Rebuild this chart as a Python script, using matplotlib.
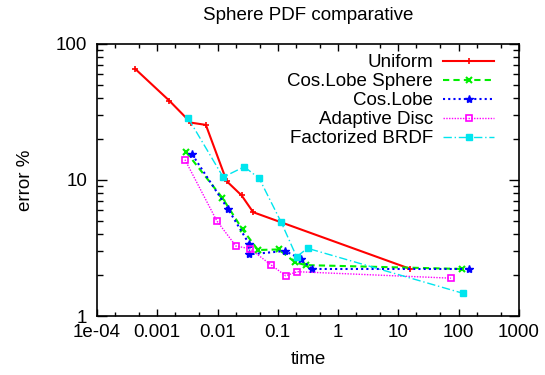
import numpy as np
import matplotlib
matplotlib.use('Agg')
import matplotlib.pyplot as plt
from matplotlib.ticker import FixedLocator, LogLocator, NullFormatter

# data (time, error %)
uniform_t = [4.3e-4, 1.58e-3, 3.6e-3, 6.4e-3, 0.0142, 0.0251, 0.039, 15.9]
uniform_e = [65.5, 38.3, 26.4, 25.4, 9.8, 7.7, 5.8, 2.22]

sphere_t = [3.0e-3, 0.012, 0.026, 0.047, 0.104, 0.192, 0.289, 116]
sphere_e = [16.1, 7.4, 4.33, 3.06, 3.09, 2.49, 2.37, 2.22]

lobe_t = [3.8e-3, 0.015, 0.0336, 0.0336, 0.131, 0.239, 0.368, 148]
lobe_e = [15.4, 6.1, 3.38, 2.84, 3.01, 2.64, 2.22, 2.22]

disc_t = [2.88e-3, 0.0097, 0.0202, 0.0344, 0.077, 0.135, 0.21, 75]
disc_e = [14.1, 5.02, 3.27, 3.13, 2.38, 1.98, 2.12, 1.90]

brdf_t = [3.27e-3, 0.0124, 0.0277, 0.049, 0.114, 0.205, 0.312, 119]
brdf_e = [28.4, 10.5, 12.5, 10.3, 4.89, 2.73, 3.15, 1.47]

x_ticks = [1e-4, 1e-3, 1e-2, 1e-1, 1, 10, 100, 1000]
x_labels = ['1e-04', '0.001', '0.01', '0.1', '1', '10', '100', '1000']
y_ticks = [1, 10, 100]
y_labels = ['1', '10', '100']

FS = 13.5
plt.rcParams['font.family'] = ['Liberation Sans', 'DejaVu Sans']
fig = plt.figure(figsize=(5.45, 3.75), dpi=100)
ax = fig.add_axes([0.178, 0.157, 0.774, 0.726])

ax.plot(uniform_t, uniform_e, color='#ff0000', lw=1.5, ls='-', marker='+', ms=5, mew=1.2, label='Uniform')
ax.plot(sphere_t, sphere_e, color='#00ee00', lw=1.5, ls=(0, (3, 2)), marker='x', ms=5, mew=1.5, label='Cos.Lobe Sphere')
ax.plot(lobe_t, lobe_e, color='#0000ff', lw=1.5, ls=(0, (1, 1.5)), marker='*', ms=6, mew=1.0, label='Cos.Lobe')
ax.plot(disc_t, disc_e, color='#ff00ff', lw=1.0, ls=(0, (1, 1)), marker='s', ms=5, mfc='none', mew=1.2, label='Adaptive Disc')
ax.plot(brdf_t, brdf_e, color='#00e5ee', lw=1.0, ls=(0, (6, 2, 1, 2)), marker='s', ms=5, mew=1.0, label='Factorized BRDF')

ax.set_xscale('log')
ax.set_yscale('log')
ax.set_xlim(1e-4, 1000)
ax.set_ylim(1, 100)
ax.xaxis.set_major_locator(FixedLocator(x_ticks))
ax.set_xticklabels(x_labels)
ax.yaxis.set_major_locator(FixedLocator(y_ticks))
ax.set_yticklabels(y_labels)
ax.xaxis.set_minor_locator(LogLocator(base=10, subs=(2, 5)))
ax.yaxis.set_minor_locator(LogLocator(base=10, subs=np.arange(2, 10)))
ax.xaxis.set_minor_formatter(NullFormatter())
ax.yaxis.set_minor_formatter(NullFormatter())
ax.tick_params(which='both', direction='in', top=True, right=True, labelsize=FS, width=1)
ax.tick_params(axis='x', which='major', length=5, pad=6)
ax.tick_params(axis='x', which='minor', length=3)
ax.tick_params(axis='y', which='major', length=7, pad=7)
ax.tick_params(axis='y', which='minor', length=4)
for s in ax.spines.values():
    s.set_linewidth(1.2)

ax.set_title('Sphere PDF comparative', fontsize=FS, pad=17)
ax.set_xlabel('time', fontsize=FS, labelpad=7)
ax.set_ylabel('error %', fontsize=FS, labelpad=16)

leg = ax.legend(loc='upper right', bbox_to_anchor=(0.972, 1.01), frameon=False, markerfirst=False,
                fontsize=FS, handlelength=2.7, labelspacing=0.1, handletextpad=0.55, borderpad=0.2)

fig.savefig('out.png', dpi=100)
